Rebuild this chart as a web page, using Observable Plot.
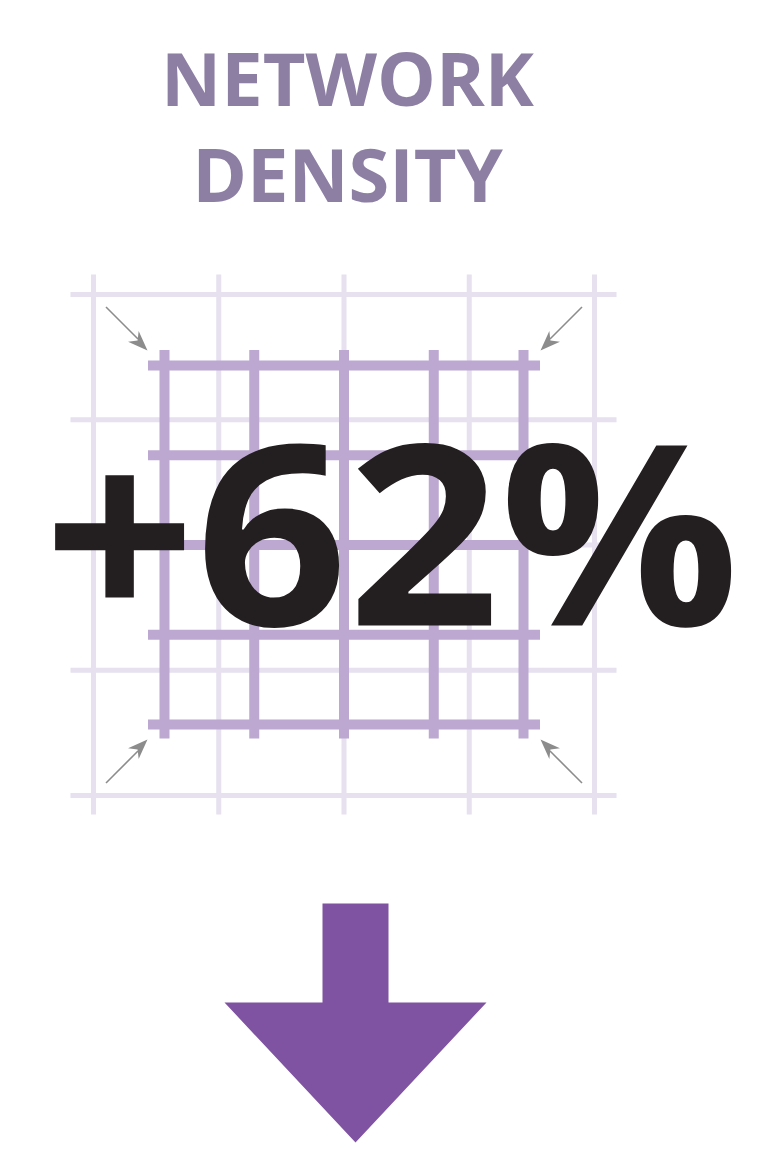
<!DOCTYPE html>
<html><head><meta charset="utf-8">
<script src="https://cdn.jsdelivr.net/npm/d3@7"></script>
<script src="https://cdn.jsdelivr.net/npm/@observablehq/plot@0.6"></script>
<style>html,body{margin:0;padding:0;background:#fff;} #chart svg{display:block;}</style>
</head><body><div id="chart"></div>
<script>
// ---- data ----
const titleLines = ["NETWORK", "DENSITY"];
const changePct = [62];
const gridIndex = [0, 1, 2, 3, 4];
const arrowDirs = [[-1, -1], [1, -1], [-1, 1], [1, 1]];
const densityFactor = 0.7166;

// ---- layout ----
const W = 767, H = 1153;
const cx = 343.5, cy = 544.5, step = 125.25;
const off = (i, f) => (i - 2) * step * f;

const lightC = "#e6e0ef", darkC = "#bca8d1", greyC = "#8c8c8c";

// arrowhead symbol: tip at origin pointing up (barbed)
const barb = {
  draw(ctx) {
    ctx.moveTo(0, 0);
    ctx.lineTo(7.5, 20);
    ctx.lineTo(0, 14);
    ctx.lineTo(-7.5, 20);
    ctx.closePath();
  }
};
// arrows point inward, i.e. opposite to the corner direction
const rot = d => Math.atan2(-d[1], -d[0]) * 180 / Math.PI + 90;

// big down arrow outline (relative to its centre line)
const ax = 355;
const downArrow = [[-33, 903], [33, 903], [33, 1002], [131, 1002], [0, 1142], [-131, 1002], [-33, 1002]];

const chart = Plot.plot({
  width: W, height: H,
  margin: 0,
  x: {domain: [0, W], range: [0, W], axis: null},
  y: {domain: [0, H], range: [0, H], axis: null},
  style: {background: "#fff"},
  marks: [
    // light (original) grid
    Plot.ruleX(gridIndex, {x: i => cx + off(i, 1), y1: cy - 270, y2: cy + 270, stroke: lightC, strokeWidth: 5}),
    Plot.ruleY(gridIndex, {y: i => cy + off(i, 1), x1: cx - 273, x2: cx + 273, stroke: lightC, strokeWidth: 5}),
    // dense grid
    Plot.ruleX(gridIndex, {x: i => cx + off(i, densityFactor), y1: cy - 194.5, y2: cy + 194, stroke: darkC, strokeWidth: 10}),
    Plot.ruleY(gridIndex, {y: i => cy + off(i, densityFactor), x1: cx - 195.5, x2: cx + 196.5, stroke: darkC, strokeWidth: 10}),
    // corner arrows
    Plot.link(arrowDirs, {
      x1: d => cx + d[0] * 238, y1: d => cy + d[1] * 238,
      x2: d => cx + d[0] * 206, y2: d => cy + d[1] * 206,
      stroke: greyC, strokeWidth: 1.6
    }),
    Plot.dot(arrowDirs, {
      x: d => cx + d[0] * 196.5, y: d => cy + d[1] * 194.5,
      symbol: barb, rotate: rot, fill: greyC, stroke: null, r: 5
    }),
    // headline number
    Plot.text(changePct, {
      x: 391, y: 625, text: d => `+${d}%`, lineAnchor: "bottom",
      fontSize: 252, fontWeight: 700, fill: "#231f20",
      fontFamily: "Open Sans", className: "headline"
    }),
    // title
    Plot.text(titleLines, {
      x: 347, y: (d, i) => 105 + i * 96, text: d => d, lineAnchor: "bottom",
      fontSize: 74, fontWeight: 700, fill: "#8d7fa3",
      fontFamily: "Open Sans"
    }),
    // down arrow
    Plot.line(downArrow, {x: d => ax + d[0], y: d => d[1], fill: "#7f53a1", stroke: null})
  ]
});
// widen the headline glyphs slightly to match the reference typeface proportions
d3.select(chart).selectAll(".headline text").each(function () {
  const t = d3.select(this);
  const tr = t.attr("transform") || "";
  t.attr("transform", tr + " scale(1.055,1)");
});
document.getElementById("chart").append(chart);
</script>
</body></html>
